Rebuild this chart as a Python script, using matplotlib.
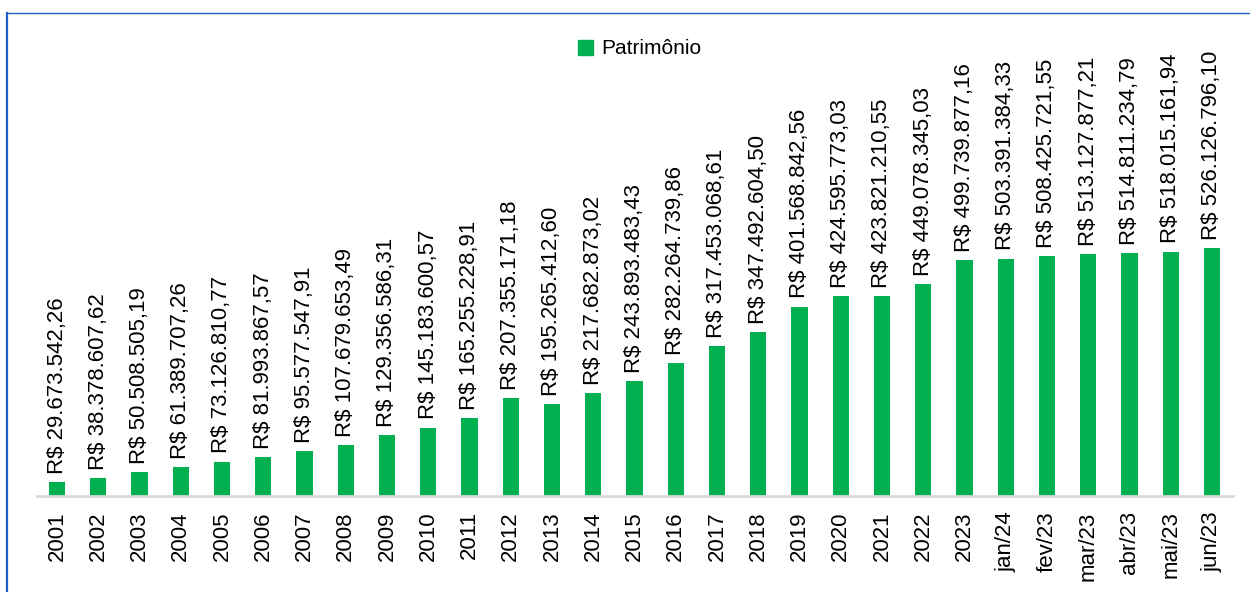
import matplotlib.pyplot as plt
from matplotlib.lines import Line2D
from matplotlib.patches import Patch

plt.rcParams['font.family'] = ['Liberation Sans', 'DejaVu Sans']

categorias = ['2001', '2002', '2003', '2004', '2005', '2006', '2007', '2008',
              '2009', '2010', '2011', '2012', '2013', '2014', '2015', '2016',
              '2017', '2018', '2019', '2020', '2021', '2022', '2023',
              'jan/24', 'fev/23', 'mar/23', 'abr/23', 'mai/23', 'jun/23']
patrimonio = [29673542.26, 38378607.62, 50508505.19, 61389707.26, 73126810.77,
              81993867.57, 95577547.91, 107679653.49, 129356586.31, 145183600.57,
              165255228.91, 207355171.18, 195265412.60, 217682873.02, 243893483.43,
              282264739.86, 317453068.61, 347492604.50, 401568842.56, 424595773.03,
              423821210.55, 449078345.03, 499739877.16, 503391384.33, 508425721.55,
              513127877.21, 514811234.79, 518015161.94, 526126796.10]

verde = '#00B050'


def brl(v):
    s = f'{v:,.2f}'.replace(',', '_').replace('.', ',').replace('_', '.')
    return 'R$ ' + s


fig = plt.figure(figsize=(12.5, 5.92), dpi=100)
ax = fig.add_axes([37 / 1250, 96 / 592, 1196 / 1250, 476 / 592])

x = range(len(categorias))
bars = ax.bar(x, patrimonio, width=0.39, color=verde, zorder=2)

for xi, v in zip(x, patrimonio):
    ax.annotate(brl(v), (xi, v), xytext=(0, 6), textcoords='offset points',
                rotation=90, ha='center', va='bottom', fontsize=16)

ax.set_xticks(list(x))
ax.set_xticklabels(categorias, rotation=90, fontsize=16)
ax.tick_params(axis='x', length=0, pad=11)
ax.set_yticks([])
ax.set_xlim(-0.485, len(categorias) - 1 + 0.51)
ax.set_ylim(0, 476 / 0.4714 * 1e6)
for s in ['top', 'right', 'left']:
    ax.spines[s].set_visible(False)
ax.spines['bottom'].set_color('#D9D9D9')
ax.spines['bottom'].set_linewidth(2)

fig.legend(handles=[Patch(color=verde, label='Patrimônio')],
           loc='center', bbox_to_anchor=(640 / 1250, 1 - 49 / 592),
           frameon=False, fontsize=15, handlelength=0.7, handleheight=0.7,
           handletextpad=0.4)

# borda azul
fig.add_artist(Line2D([7 / 1250, 7 / 1250], [0, 1 - 13 / 592],
                      transform=fig.transFigure, color='#1F5FCC', lw=1.6))
fig.add_artist(Line2D([7 / 1250, 1], [1 - 13 / 592, 1 - 13 / 592],
                      transform=fig.transFigure, color='#1F5FCC', lw=1.0))

plt.savefig('out.png', dpi=100)
